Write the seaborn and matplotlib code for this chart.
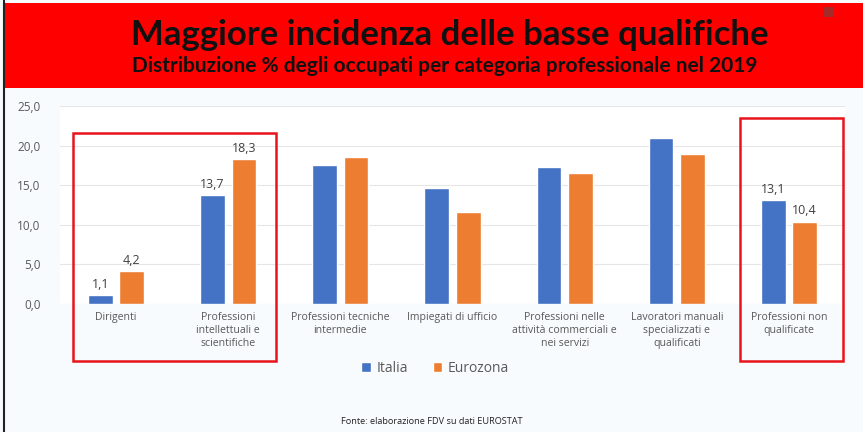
import matplotlib
matplotlib.use("Agg")
import matplotlib.pyplot as plt
import seaborn as sns
import pandas as pd
from matplotlib.patches import Rectangle

categories = ["Dirigenti", "Professioni\nintellettuali e\nscientifiche",
              "Professioni tecniche\nintermedie", "Impiegati di ufficio",
              "Professioni nelle\nattività commerciali e\nnei servizi",
              "Lavoratori manuali\nspecializzati e\nqualificati",
              "Professioni non\nqualificate"]
italia = [1.1, 13.7, 17.5, 14.6, 17.3, 20.9, 13.1]
eurozona = [4.2, 18.3, 18.5, 11.6, 16.6, 18.9, 10.4]
series = ["Italia", "Eurozona"]
labelled = [0, 1, 6]
yticks = [0, 5, 10, 15, 20, 25]

df = pd.DataFrame({
    "cat": categories * 2,
    "val": italia + eurozona,
    "serie": [series[0]] * len(categories) + [series[1]] * len(categories),
})

sns.set_theme(style="white")
plt.rcParams["font.family"] = ["Open Sans", "DejaVu Sans"]

W, H = 863, 432
fig = plt.figure(figsize=(W / 100, H / 100), dpi=100)
fig.patch.set_facecolor("#f8fbfd")

def fx(px):
    return px / W

def fy(py):
    return 1 - py / H

# header band
fig.patches.append(Rectangle((fx(5), fy(88)), fx(858), (88 - 3) / H,
                             transform=fig.transFigure, facecolor="#ff0000",
                             edgecolor="none", zorder=0))
fig.patches.append(Rectangle((fx(824), fy(17)), fx(10), 10 / H,
                             transform=fig.transFigure, facecolor="#a52a2a",
                             edgecolor="none", zorder=1))
# left border line
fig.add_artist(plt.Line2D([fx(3.5), fx(3.5)], [0, 1], transform=fig.transFigure,
                          color="#222222", lw=1.5))

fig.text(fx(450), fy(35), "Maggiore incidenza delle basse qualifiche",
         ha="center", va="center", fontsize=25, fontweight="bold",
         family=["Lato", "DejaVu Sans"], color="#111111")
fig.text(fx(445), fy(66), "Distribuzione % degli occupati per categoria professionale nel 2019",
         ha="center", va="center", fontsize=15, fontweight="bold",
         family=["Lato", "DejaVu Sans"], color="#111111")

ax = fig.add_axes([fx(60), fy(304), fx(845 - 60), (304 - 106) / H])
ax.set_facecolor("white")
sns.barplot(data=df, x="cat", y="val", hue="serie", ax=ax,
            palette=["#4472c4", "#ed7d31"], width=0.56, gap=0.21,
            legend=True, saturation=1)

ax.set_ylim(0, 25)
ax.set_yticks(yticks)
ax.set_yticklabels([f"{v:.1f}".replace(".", ",") for v in yticks],
                   fontsize=8.5, color="#595959")
ax.set_xlim(-0.5, len(categories) - 0.5)
ax.set_xlabel("")
ax.set_ylabel("")
ax.tick_params(axis="x", labelsize=7.6, colors="#595959", pad=6, length=0)
ax.tick_params(axis="y", pad=14, length=0)
ax.grid(axis="y", color="#e6e6e6", lw=0.8)
ax.set_axisbelow(True)
for s in ax.spines.values():
    s.set_visible(False)

for cont, vals in zip(ax.containers, [italia, eurozona]):
    labs = [f"{v:.1f}".replace(".", ",") if i in labelled else "" for i, v in enumerate(vals)]
    ax.bar_label(cont, labels=labs, padding=3, fontsize=9, color="#404040")

leg = ax.legend(loc="center", bbox_to_anchor=((435 - 60) / 785, (304 - 368) / (304 - 106)),
                ncol=2, frameon=False, fontsize=10, handlelength=0.7,
                handleheight=0.7, columnspacing=1.8, handletextpad=0.4)
for t in leg.get_texts():
    t.set_color("#595959")

# highlight boxes
for (x0, y0, x1, y1) in [(73, 133, 276, 361), (740, 118, 843, 361)]:
    fig.patches.append(Rectangle((fx(x0), fy(y1)), fx(x1 - x0), (y1 - y0) / H,
                                 transform=fig.transFigure, facecolor="none",
                                 edgecolor="#e8141b", lw=1.8, zorder=5))

fig.text(fx(432), fy(421), "Fonte: elaborazione FDV su dati EUROSTAT",
         ha="center", va="center", fontsize=6.6, color="#222222")

fig.savefig("out.png", dpi=100, facecolor=fig.get_facecolor())
